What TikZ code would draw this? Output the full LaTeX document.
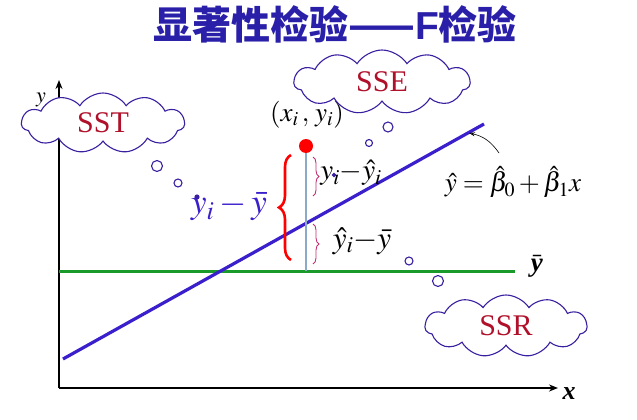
\documentclass[tikz,border=0pt]{standalone}
\usepackage{amsmath}
\usepackage{mathptmx}
\usepackage{fontspec}
\setmainfont{Liberation Serif}
\newfontfamily\cjk{Noto Sans CJK SC}
\newfontfamily\sansb{Liberation Sans}
\usetikzlibrary{shapes.symbols,decorations.pathreplacing,arrows.meta}
\definecolor{titleblue}{HTML}{2A1FA8}
\definecolor{lineblue}{HTML}{3A1FCC}
\definecolor{cloudblue}{HTML}{3A1FA0}
\definecolor{ssred}{HTML}{B0102A}
\definecolor{gline}{HTML}{1A9A2A}
\definecolor{vline}{HTML}{8AAAC8}
\definecolor{pinkb}{HTML}{C03070}
\tikzset{
  cloudbox/.style={cloud, cloud puffs=11, cloud puff arc=115, aspect=2.6, draw=cloudblue, line width=1.1pt, fill=white, text=ssred, font=\fontsize{30}{30}\selectfont, inner sep=0pt},
  bubble/.style={circle, draw=cloudblue, line width=1.1pt, fill=white, inner sep=0pt},
  axis/.style={line width=1.6pt, -{Stealth[length=9pt,width=7pt]}},
  mathlbl/.style={inner sep=0pt},
}
\begin{document}
\begin{tikzpicture}[x=1pt,y=-1pt]
\useasboundingbox (0,0) rectangle (637,420);
% title
\node[text=titleblue, font=\cjk\bfseries\fontsize{39}{39}\selectfont, inner sep=0pt] (title) at (335,24) {显著性检验——{\sansb\bfseries F}检验};
% axes
\coordinate (O) at (59,388);
\coordinate (ytop) at (59,80);
\coordinate (xend) at (558,388);
\draw[axis] (O) -- (ytop);
\draw[axis] (O) -- (xend);
\node[mathlbl, font=\fontsize{26}{26}\selectfont] (xl) at (569,394) {\textbf{\textit{x}}};
\node[mathlbl, font=\fontsize{22}{22}\selectfont] (yl) at (41,100) {$y$};
% mean line
\coordinate (g1) at (59,271);
\coordinate (g2) at (515,271);
\draw[gline, line width=3pt] (g1) -- (g2);
\node[mathlbl, font=\fontsize{27}{27}\selectfont] (ybar) at (537,266) {$\bar{\text{\textbf{\textit{y}}}}$};
% regression line
\coordinate (r1) at (63,359);
\coordinate (r2) at (484,124);
\draw[lineblue, line width=3.2pt] (r1) -- (r2);
\node[mathlbl, font=\fontsize{27}{27}\selectfont] (eq) at (513,182) {$\hat{y}=\hat{\beta}_0+\hat{\beta}_1x$};
\coordinate (ca) at (499,153);
\coordinate (cb) at (469,133);
\draw[-{Stealth[length=6pt,width=4pt,open]}, line width=0.6pt] (ca) .. controls (490,140) and (482,136) .. (cb);
% point and vertical line
\coordinate (vb) at (306,271);
\node[circle, fill=red, inner sep=0pt, minimum size=14pt] (pt) at (306,146) {};
\draw[vline, line width=1.8pt] (pt) -- (vb);
\node[mathlbl, font=\fontsize{27}{27}\selectfont] (xy) at (307,115) {$(x_i\,,\,y_i)$};
% red brace
\coordinate (rb1) at (291,260);
\coordinate (rb2) at (291,155);
\draw[red, line width=2.6pt, decorate, decoration={brace, amplitude=12pt}] (rb1) -- (rb2);
\node[mathlbl, text=lineblue, font=\fontsize{35}{35}\selectfont] (tot) at (229,207) {$y_i-\bar{y}$};
% small braces
\coordinate (s1) at (313,157);
\coordinate (s2) at (313,196);
\coordinate (s3) at (313,224);
\coordinate (s4) at (313,264);
\draw[pinkb, line width=0.9pt, decorate, decoration={brace, amplitude=6pt}] (s1) -- (s2);
\draw[pinkb, line width=0.9pt, decorate, decoration={brace, amplitude=6pt}] (s3) -- (s4);
\node[mathlbl, font=\fontsize{29}{29}\selectfont] (res) at (351,173) {$y_i{-}\hat{y}_i$};
\node[mathlbl, font=\fontsize{31}{31}\selectfont] (reg) at (362,241) {$\hat{y}_i{-}\bar{y}$};
% clouds
\node[cloudbox, minimum width=163pt, minimum height=60pt] (sst) at (103,123) {SST};
\node[cloudbox, minimum width=176pt, minimum height=64pt] (sse) at (382,82) {SSE};
\node[cloudbox, minimum width=162pt, minimum height=62pt] (ssr) at (506,326) {SSR};
% bubbles
\node[bubble, minimum size=11pt] (b1) at (157,166) {};
\node[bubble, minimum size=8pt] (b2) at (178,183) {};
\node[bubble, minimum size=4pt, fill=cloudblue] (b3) at (197,197) {};
\node[bubble, minimum size=10pt] (b4) at (388,127) {};
\node[bubble, minimum size=7pt] (b5) at (369,143) {};
\node[bubble, minimum size=3pt, fill=cloudblue] (b6) at (334,175) {};
\node[bubble, minimum size=8pt] (b7) at (409,261) {};
\node[bubble, minimum size=11pt] (b8) at (438,281) {};
\end{tikzpicture}
\end{document}
